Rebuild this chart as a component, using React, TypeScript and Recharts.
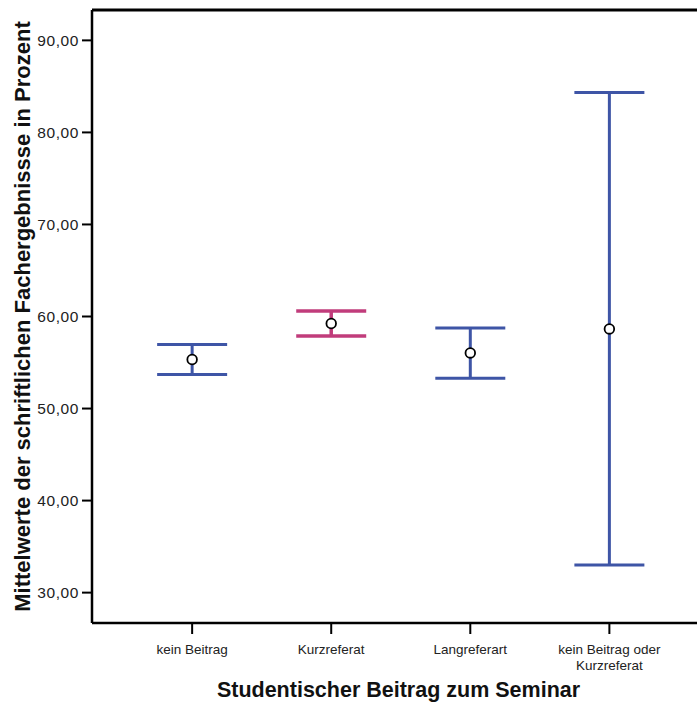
import React from "react";
import {
  ScatterChart,
  Scatter,
  XAxis,
  YAxis,
  ErrorBar,
  ReferenceLine,
} from "recharts";

const categories = [
  "kein Beitrag",
  "Kurzreferat",
  "Langreferart",
  "kein Beitrag oder Kurzreferat",
];
const means = [55.33, 59.24, 56.04, 58.65];
const lowerBounds = [53.7, 57.89, 53.29, 33.0];
const upperBounds = [56.96, 60.61, 58.76, 84.35];
const highlighted = ["Kurzreferat"];
const yTicks = [30, 40, 50, 60, 70, 80, 90];

const Y_MIN = 26.7;
const Y_MAX = 93.3;
const BLUE = "#3e55a6";
const PINK = "#c13c7b";
const FONT = "'Liberation Sans', Arial, sans-serif";

const rows = categories.map((name, i) => ({
  name,
  pos: i + 1,
  mean: means[i],
  err: [means[i] - lowerBounds[i], upperBounds[i] - means[i]],
}));

const blueRows = rows.filter((r) => !highlighted.includes(r.name));
const pinkRows = rows.filter((r) => highlighted.includes(r.name));

const fmt = (v: number) => v.toFixed(2).replace(".", ",");

// break long category names into lines of roughly 17 characters
function wrap(label: string, max = 17): string[] {
  const lines: string[] = [];
  let cur = "";
  for (const w of label.split(" ")) {
    const next = cur ? cur + " " + w : w;
    if (next.length > max && cur) {
      lines.push(cur);
      cur = w;
    } else {
      cur = next;
    }
  }
  if (cur) lines.push(cur);
  return lines;
}

const CategoryTick = (props: any) => {
  const { x, y, payload } = props;
  const label = categories[Math.round(payload.value) - 1] ?? "";
  return (
    <text
      x={x}
      y={y + 18}
      textAnchor="middle"
      style={{ fontFamily: FONT, fontSize: "13.5px" }}
      fill="#222"
    >
      {wrap(label).map((line, i) => (
        <tspan key={i} x={x} dy={i === 0 ? 0 : 16}>
          {line}
        </tspan>
      ))}
    </text>
  );
};

const ValueTick = (props: any) => {
  const { x, y, payload } = props;
  return (
    <text
      x={x - 1}
      y={y}
      textAnchor="end"
      dominantBaseline="central"
      style={{ fontFamily: FONT, fontSize: "15.5px", letterSpacing: "0.6px" }}
      fill="#222"
    >
      {fmt(payload.value)}
    </text>
  );
};

const MeanDot = (props: any) => (
  <circle
    cx={props.cx}
    cy={props.cy}
    r={4.8}
    fill="#fff"
    stroke="#000"
    strokeWidth={1.8}
  />
);

const YTitle = (props: any) => {
  const vb = props.viewBox;
  const cx = 22;
  const cy = vb.y + vb.height / 2;
  return (
    <text
      x={cx}
      y={cy}
      transform={`rotate(-90, ${cx}, ${cy})`}
      textAnchor="middle"
      dominantBaseline="central"
      style={{ fontFamily: FONT, fontWeight: "bold", fontSize: "22px" }}
      fill="#111"
    >
      Mittelwerte der schriftlichen Fachergebnissse in Prozent
    </text>
  );
};

const XTitle = (props: any) => {
  const vb = props.viewBox;
  const cx = vb.x + vb.width / 2 + 4;
  return (
    <text
      x={cx}
      y={697}
      textAnchor="middle"
      style={{ fontFamily: FONT, fontWeight: "bold", fontSize: "21.5px" }}
      fill="#111"
    >
      Studentischer Beitrag zum Seminar
    </text>
  );
};

export default function App() {
  return (
    <div style={{ position: "absolute", left: 0, top: 0, background: "#fff" }}>
      <ScatterChart
        width={697}
        height={705}
        margin={{ top: 10, right: 0, bottom: 0, left: 0 }}
      >
        <XAxis
          type="number"
          dataKey="pos"
          domain={[0.28, 4.63]}
          ticks={[1, 2, 3, 4]}
          allowDataOverflow
          height={82}
          tick={<CategoryTick />}
          tickSize={11}
          tickLine={{ stroke: "#000", strokeWidth: 2 }}
          axisLine={{ stroke: "#000", strokeWidth: 2.5 }}
          label={<XTitle />}
        />
        <YAxis
          type="number"
          dataKey="mean"
          domain={[Y_MIN, Y_MAX]}
          ticks={yTicks}
          allowDataOverflow
          width={92}
          tick={<ValueTick />}
          tickSize={10}
          tickLine={{ stroke: "#000", strokeWidth: 2 }}
          axisLine={{ stroke: "#000", strokeWidth: 2.5 }}
          label={<YTitle />}
        />
        <ReferenceLine y={Y_MAX} stroke="#000" strokeWidth={3} />
        <Scatter data={blueRows} shape={<MeanDot />} isAnimationActive={false}>
          <ErrorBar
            dataKey="err"
            direction="y"
            width={35}
            stroke={BLUE}
            strokeWidth={3}
          />
        </Scatter>
        <Scatter data={pinkRows} shape={<MeanDot />} isAnimationActive={false}>
          <ErrorBar
            dataKey="err"
            direction="y"
            width={35}
            stroke={PINK}
            strokeWidth={3.5}
          />
        </Scatter>
      </ScatterChart>
    </div>
  );
}
